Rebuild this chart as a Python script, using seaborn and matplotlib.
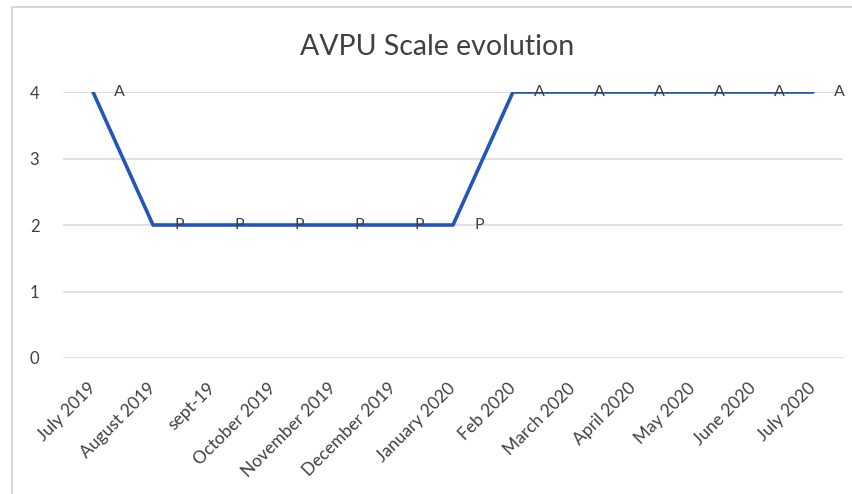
import matplotlib.pyplot as plt
import pandas as pd
import seaborn as sns
from matplotlib.patches import Rectangle

months = [
    "July 2019", "August 2019", "sept-19", "October 2019", "November 2019",
    "December 2019", "January 2020", "Feb 2020", "March 2020", "April 2020",
    "May 2020", "June 2020", "July 2020",
]
scores = [4, 2, 2, 2, 2, 2, 2, 4, 4, 4, 4, 4, 4]
avpu = ["A", "P", "P", "P", "P", "P", "P", "A", "A", "A", "A", "A", "A"]

LINE = "#2456B8"
TEXT = "#404040"
GRID = "#D9D9D9"


def main() -> None:
    sns.set_theme(style="white")
    plt.rcParams["font.family"] = ["Lato", "DejaVu Sans"]

    df = pd.DataFrame({"month": months, "score": scores, "label": avpu})

    fig = plt.figure(figsize=(8.53, 4.94), dpi=100)
    ax = fig.add_axes([63 / 853, 1 - 358 / 494, 780 / 853, 266 / 494])

    sns.lineplot(data=df, x="month", y="score", sort=False, ax=ax,
                 color=LINE, linewidth=2.6, zorder=3)

    # data labels to the right of each point
    for i, row in df.iterrows():
        ax.annotate(row["label"], (i, row["score"]), xytext=(19, 0),
                    textcoords="offset points", ha="center", va="center",
                    fontsize=11.5, color=TEXT, zorder=4)

    ax.set_xlim(-0.5, len(months) - 0.5)
    ax.set_ylim(0, 4)
    ax.set_yticks(range(0, 5))
    ax.yaxis.grid(True, color=GRID, linewidth=1.1)
    ax.set_axisbelow(True)
    for s in ax.spines.values():
        s.set_visible(False)
    ax.set_xlabel("")
    ax.set_ylabel("")
    ax.tick_params(axis="y", length=0, pad=17, labelsize=12, labelcolor=TEXT)
    ax.tick_params(axis="x", length=0, pad=20, labelsize=12.5, labelcolor=TEXT)
    plt.setp(ax.get_xticklabels(), rotation=45, ha="right", va="center",
             rotation_mode="anchor")

    fig.text(437 / 853, 1 - 47 / 494, "AVPU Scale evolution", ha="center",
             va="center", fontsize=20.5, color=TEXT)

    # chart-area border (cropped at right/bottom)
    fig.patches.append(Rectangle((12 / 853, -0.1), 1.2, 1.1 - 7 / 494,
                                 transform=fig.transFigure, fill=False,
                                 edgecolor="#CFCFCF", linewidth=1.2))

    fig.savefig("out.png", dpi=100)
    plt.close(fig)


if __name__ == "__main__":
    main()
